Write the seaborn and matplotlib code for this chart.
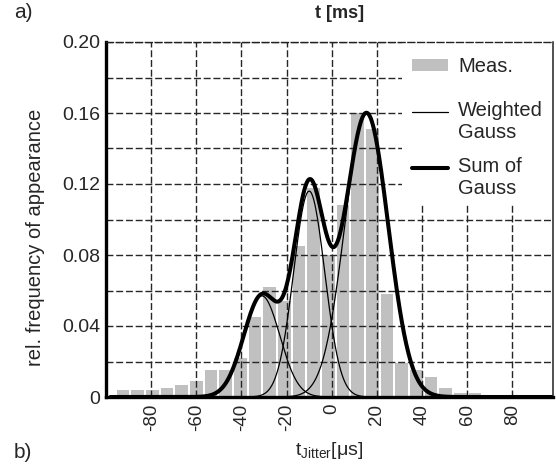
import numpy as np
import matplotlib
matplotlib.use("Agg")
import matplotlib.pyplot as plt
import seaborn as sns
from matplotlib.patches import Patch, Rectangle
from matplotlib.lines import Line2D
from matplotlib.legend_handler import HandlerLine2D

# ---------------- data ----------------
bin_centers = [-92.5, -86, -79.5, -73, -66.5, -60, -53.5, -47, -40.5, -34, -27.5, -21,
               -14.5, -8, -1.5, 5, 11.5, 18, 24.5, 31, 37.5, 44, 50.5, 57, 63.5]
rel_freq = [0.004, 0.004, 0.004, 0.005, 0.0065, 0.009, 0.015, 0.015, 0.022, 0.045,
            0.062, 0.054, 0.085, 0.118, 0.080, 0.108, 0.160, 0.151, 0.058, 0.019,
            0.015, 0.011, 0.005, 0.0025, 0.002]
gauss_means = [-31.0, -10.0, 15.4]
gauss_sigmas = [8.0, 6.9, 9.6]
gauss_weights = [0.057, 0.116, 0.160]

x_ticks = [-80, -60, -40, -20, 0, 20, 40, 60, 80]
y_ticks = [0, 0.04, 0.08, 0.12, 0.16, 0.20]
y_tick_labels = ["0", "0.04", "0.08", "0.12", "0.16", "0.20"]
legend_labels = ["Meas.", "Weighted\nGauss", "Sum of\nGauss"]

# ---------------- style ----------------
sns.set_style("white")
plt.rcParams["font.family"] = ["Liberation Sans", "DejaVu Sans"]
plt.rcParams["mathtext.default"] = "regular"

fig = plt.figure(figsize=(5.56, 4.68), dpi=100)
ax = fig.add_axes([106 / 556, 1 - 397 / 468, (553 - 106) / 556, (397 - 42) / 468])

BAR_COLOR = "#c0c0c0"
sns.barplot(x=bin_centers, y=rel_freq, native_scale=True, width=0.86,
            color=BAR_COLOR, saturation=1, errorbar=None, linewidth=0,
            edgecolor="none", ax=ax, zorder=1)

xs = np.linspace(-98, 98, 800)
total = np.zeros_like(xs)
for m, s, w in zip(gauss_means, gauss_sigmas, gauss_weights):
    g = w * np.exp(-0.5 * ((xs - m) / s) ** 2)
    total += g
    sns.lineplot(x=xs, y=g, color="black", linewidth=0.9, estimator=None,
                 sort=False, ax=ax, zorder=4)
sns.lineplot(x=xs, y=total, color="black", linewidth=2.9, estimator=None,
             sort=False, ax=ax, zorder=5)

ax.set_xlim(-100, 98)
ax.set_ylim(0, 0.2)
ax.set_xticks(x_ticks)
ax.set_xticklabels([str(t) for t in x_ticks], rotation=90, fontsize=13.5,
                   family=["Liberation Sans Narrow", "Liberation Sans"])
ax.set_yticks(y_ticks)
ax.set_yticklabels(y_tick_labels, fontsize=14)
ax.set_yticks([0.02, 0.06, 0.10, 0.14, 0.18], minor=True)
ax.tick_params(axis="both", which="both", length=0, pad=4)
ax.tick_params(axis="x", pad=5)

# grid (drawn above bars)
ax.set_axisbelow(False)
grid_kw = dict(color="#262626", linewidth=1.0, linestyle=(0, (5, 2)))
ax.grid(True, which="major", axis="x", **grid_kw)
ax.grid(True, which="both", axis="y", **grid_kw)

# spines
for side in ["left", "bottom"]:
    ax.spines[side].set_linewidth(2.4)
    ax.spines[side].set_color("black")
ax.spines["right"].set_linewidth(1.1)
ax.spines["right"].set_color("#222222")
ax.spines["top"].set_linewidth(1.0)
ax.spines["top"].set_color("#222222")
ax.spines["top"].set_linestyle((0, (5, 2)))
for sp in ax.spines.values():
    sp.set_zorder(10)

# white box behind the legend
ax.add_patch(Rectangle((0.662, 0.54), 0.338, 0.457, transform=ax.transAxes,
                       facecolor="white", edgecolor="none", zorder=6))


class TopLine(HandlerLine2D):
    def create_artists(self, legend, orig_handle, xdescent, ydescent, width,
                       height, fontsize, trans):
        return super().create_artists(legend, orig_handle, xdescent,
                                      ydescent - 15.5, width, height,
                                      fontsize, trans)


handles = [Patch(facecolor=BAR_COLOR, edgecolor="none"),
           Line2D([], [], color="black", linewidth=0.9),
           Line2D([], [], color="black", linewidth=2.9)]
leg_kw = dict(loc="upper left", frameon=False, fontsize=14.5, borderpad=0,
              borderaxespad=0, handlelength=1.8, handleheight=0.5,
              handletextpad=0.5, labelspacing=0.75)
leg_a = ax.legend(handles[:1], legend_labels[:1],
                  bbox_to_anchor=((412 - 106) / 447, (397 - 57) / 355), **leg_kw)
leg_a.set_zorder(7)
ax.add_artist(leg_a)
leg_b = ax.legend(handles[1:], legend_labels[1:],
                  bbox_to_anchor=((412 - 106) / 447, (397 - 101) / 355),
                  handler_map={handles[1]: TopLine(), handles[2]: TopLine()},
                  **leg_kw)
leg_b.set_zorder(7)

ax.set_ylabel("rel. frequency of appearance", fontsize=14.5)
ax.yaxis.set_label_coords(-0.136, 0.449)
ax.set_xlabel(r"t$_{Jitter}$[μs]", fontsize=14)
ax.xaxis.set_label_coords(0.5, -0.122)

fig.text(340 / 556, 1 - 13 / 468, "t [ms]", fontsize=13, fontweight="bold",
         ha="center", va="center")
fig.text(14 / 556, 1 - 13 / 468, "a)", fontsize=15, ha="left", va="center")
fig.text(14 / 556, 1 - 453 / 468, "b)", fontsize=15, ha="left", va="center")

fig.savefig("out.png", dpi=100)
